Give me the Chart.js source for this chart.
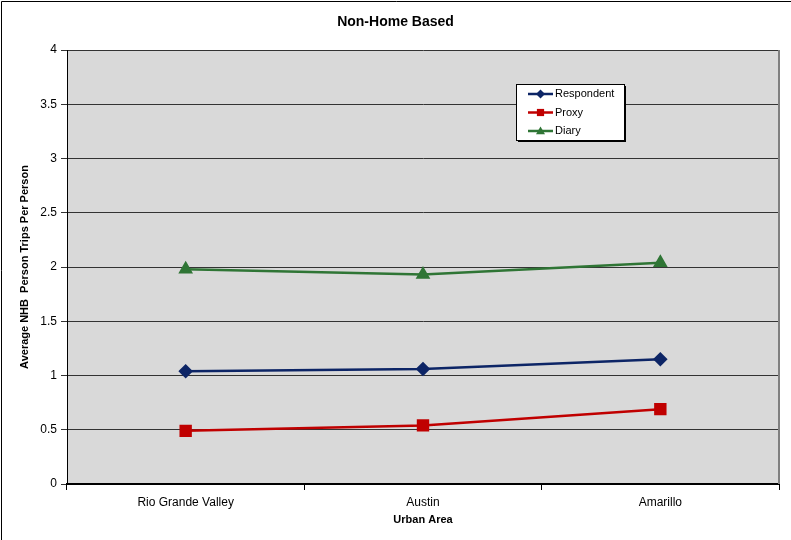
<!DOCTYPE html>
<html>
<head>
<meta charset="utf-8">
<script src="https://cdn.jsdelivr.net/npm/chart.js@4"></script>
<style>
  body { margin: 0; background: #fff; }
  #wrap { width: 791px; height: 540px; }
</style>
</head>
<body>
<div id="wrap"><canvas id="nhbChart" width="791" height="540"></canvas></div>
<script>
const categories = ["Rio Grande Valley", "Austin", "Amarillo"];
const respondent = [1.04, 1.06, 1.15];
const proxy = [0.49, 0.54, 0.69];
const diary = [1.98, 1.93, 2.04];
const yMin = 0;
const yMax = 4;
const yStep = 0.5;

const FONT = "'Liberation Sans', Arial, sans-serif";

// gray plot area + outer frame
const plotBg = {
  id: "plotBg",
  beforeDraw(chart) {
    const { ctx, chartArea: a } = chart;
    ctx.save();
    ctx.fillStyle = "#d9d9d9";
    ctx.fillRect(a.left, a.top, a.right - a.left, a.bottom - a.top);
    ctx.strokeStyle = "#000";
    ctx.lineWidth = 1;
    ctx.beginPath();
    ctx.moveTo(1.5, chart.height);
    ctx.lineTo(1.5, 1.5);
    ctx.lineTo(chart.width, 1.5);
    ctx.stroke();
    ctx.restore();
  },
  afterDatasetsDraw(chart) {
    const { ctx, chartArea: a } = chart;
    ctx.save();
    ctx.strokeStyle = "#808080";
    ctx.lineWidth = 2;
    ctx.beginPath();
    ctx.moveTo(a.right, a.top);
    ctx.lineTo(a.right, a.bottom);
    ctx.stroke();
    ctx.restore();
  },
};

function marker(ctx, style, x, y, r, color) {
  ctx.fillStyle = color;
  ctx.beginPath();
  if (style === "rectRot") {
    ctx.moveTo(x, y - r);
    ctx.lineTo(x + r, y);
    ctx.lineTo(x, y + r);
    ctx.lineTo(x - r, y);
  } else if (style === "rect") {
    ctx.rect(x - r * 0.8, y - r * 0.8, r * 1.6, r * 1.6);
  } else {
    ctx.moveTo(x, y - r);
    ctx.lineTo(x + r, y + r * 0.7);
    ctx.lineTo(x - r, y + r * 0.7);
  }
  ctx.closePath();
  ctx.fill();
}

// boxed legend inside the plot
const boxLegend = {
  id: "boxLegend",
  afterDraw(chart, args, opts) {
    const ctx = chart.ctx;
    const x = opts.x, y = opts.y, w = opts.w, h = opts.h;
    ctx.save();
    ctx.fillStyle = "#000";
    ctx.fillRect(x + 2, y + 2, w, h);
    ctx.fillStyle = "#fff";
    ctx.fillRect(x, y, w, h);
    ctx.strokeStyle = "#000";
    ctx.lineWidth = 1;
    ctx.strokeRect(x + 0.5, y + 0.5, w, h);
    ctx.font = "11px " + FONT;
    ctx.textBaseline = "middle";
    chart.data.datasets.forEach((ds, i) => {
      const ry = y + 10 + i * 18.5;
      ctx.strokeStyle = ds.borderColor;
      ctx.lineWidth = 2.5;
      ctx.beginPath();
      ctx.moveTo(x + 12, ry);
      ctx.lineTo(x + 37, ry);
      ctx.stroke();
      marker(ctx, ds.pointStyle, x + 24.5, ry, 4.5, ds.borderColor);
      ctx.fillStyle = "#000";
      ctx.fillText(ds.label, x + 39, ry);
    });
    ctx.restore();
  },
};

new Chart(document.getElementById("nhbChart"), {
  type: "line",
  data: {
    labels: categories,
    datasets: [
      {
        label: "Respondent",
        data: respondent,
        borderColor: "#0d2566",
        backgroundColor: "#0d2566",
        pointStyle: "rectRot",
        pointRadius: 5.5,
        borderWidth: 2.5,
      },
      {
        label: "Proxy",
        data: proxy,
        borderColor: "#c00000",
        backgroundColor: "#c00000",
        pointStyle: "rect",
        pointRadius: 7,
        borderWidth: 2.5,
      },
      {
        label: "Diary",
        data: diary,
        borderColor: "#2f7535",
        backgroundColor: "#2f7535",
        pointStyle: "triangle",
        pointRadius: 6,
        borderWidth: 2.5,
      },
    ],
  },
  options: {
    responsive: false,
    devicePixelRatio: 1,
    animation: false,
    layout: { padding: 0 },
    plugins: {
      legend: { display: false },
      tooltip: { enabled: false },
      title: {
        display: true,
        text: "Non-Home Based",
        color: "#000",
        font: { family: FONT, size: 14, weight: "bold", lineHeight: 1.2 },
        padding: { top: 14, bottom: 19.2 },
      },
      boxLegend: { x: 516, y: 84, w: 108, h: 56 },
    },
    scales: {
      x: {
        offset: true,
        afterFit(scale) { scale.height = 56; },
        grid: {
          offset: true,
          drawOnChartArea: false,
          drawTicks: true,
          tickLength: 6,
          color: "#000",
        },
        border: { color: "#000", width: 2 },
        ticks: {
          color: "#000",
          padding: 5,
          font: { family: FONT, size: 12 },
        },
        title: {
          display: true,
          text: "Urban Area",
          color: "#000",
          font: { family: FONT, size: 11, weight: "bold", lineHeight: 1.2 },
          padding: { top: 0, bottom: 13.4 },
        },
      },
      y: {
        min: yMin,
        max: yMax,
        afterFit(scale) { scale.width = 67; },
        grid: {
          color: "#333",
          drawTicks: true,
          tickLength: 6,
        },
        border: { color: "#000", width: 1 },
        ticks: {
          stepSize: yStep,
          color: "#000",
          padding: 4,
          font: { family: FONT, size: 12 },
          callback: (v) => String(v),
        },
        title: {
          display: true,
          text: "Average NHB  Person Trips Per Person",
          color: "#000",
          font: { family: FONT, size: 11, weight: "bold", lineHeight: 1.2 },
          padding: { top: 18, bottom: 0 },
        },
      },
      // empty right strip so the title centres on the full width
      yPad: {
        type: "linear",
        position: "right",
        afterFit(scale) { scale.width = 12; },
        grid: { display: false },
        border: { display: false },
        ticks: { display: false },
      },
    },
  },
  plugins: [plotBg, boxLegend],
});
</script>
</body>
</html>
